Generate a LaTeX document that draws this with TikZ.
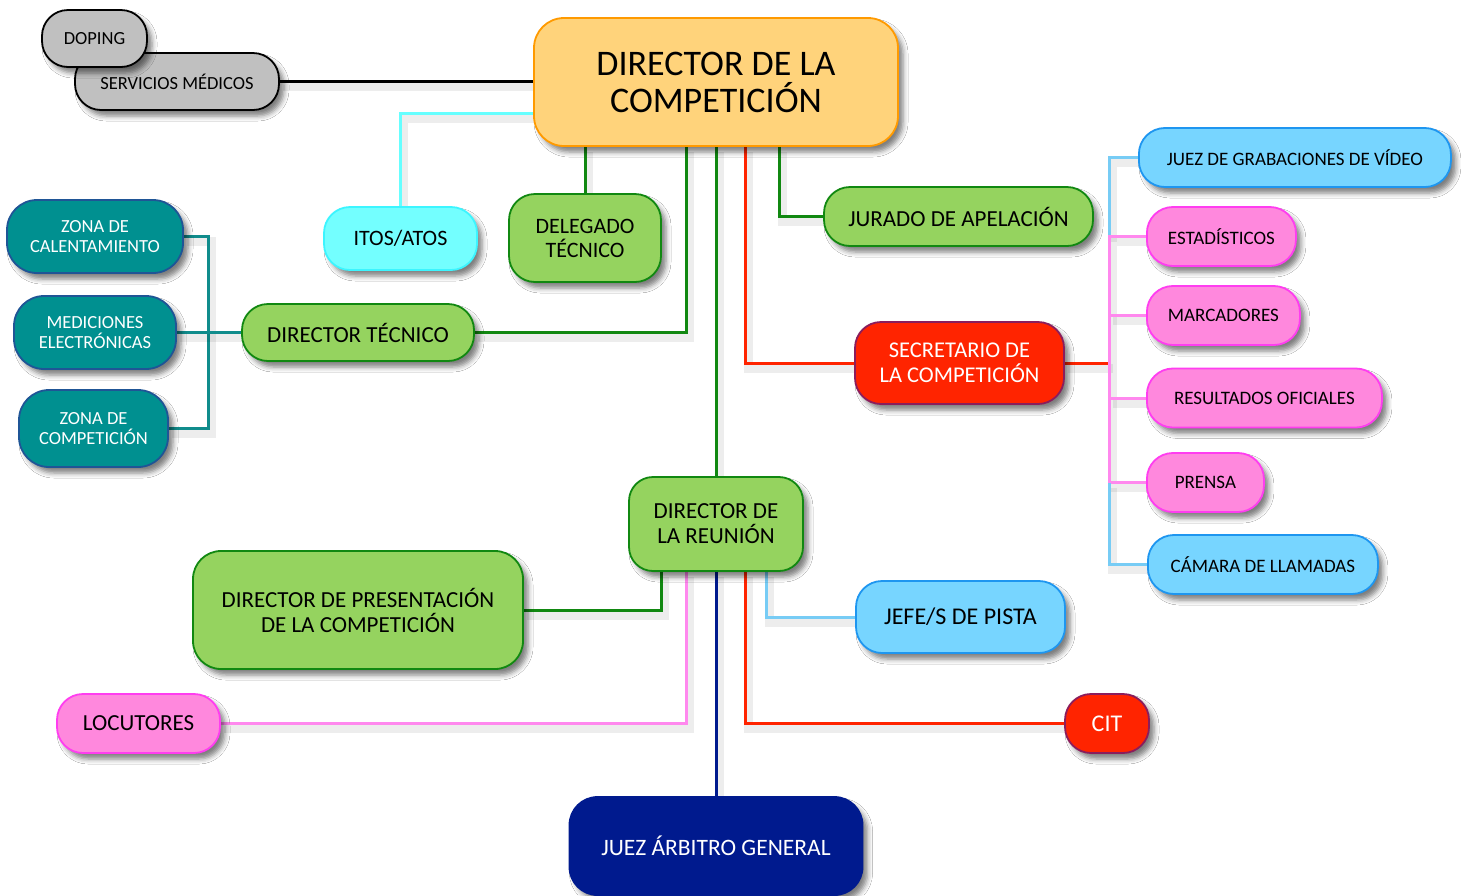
\documentclass[tikz,border=0pt]{standalone}
\usepackage{fontspec}
\setmainfont{Carlito}
\usetikzlibrary{backgrounds,shadows.blur}
\definecolor{boxgray}{RGB}{192,192,192}
\definecolor{paleorange}{RGB}{255,211,123}
\definecolor{deeporange}{RGB}{255,154,0}
\definecolor{aqua}{RGB}{115,255,255}
\definecolor{aquaedge}{RGB}{60,245,255}
\definecolor{leafgreen}{RGB}{149,211,95}
\definecolor{darkleaf}{RGB}{17,136,17}
\definecolor{deepteal}{RGB}{0,144,144}
\definecolor{tealedge}{RGB}{31,85,150}
\definecolor{signalred}{RGB}{255,36,0}
\definecolor{plum}{RGB}{139,29,92}
\definecolor{lightsky}{RGB}{119,213,255}
\definecolor{skyedge}{RGB}{30,150,240}
\definecolor{candypink}{RGB}{255,136,221}
\definecolor{pinkedge}{RGB}{255,61,240}
\definecolor{deepnavy}{RGB}{0,26,142}
\definecolor{aqualine}{RGB}{102,255,255}
\definecolor{tealline}{RGB}{16,140,140}
\definecolor{skyline}{RGB}{119,204,245}
\definecolor{pinkline}{RGB}{255,136,238}

\begin{document}
\begin{tikzpicture}[line join=bevel,
        boxnode/.style={shape=rectangle, rounded corners=26pt, line width=1.8pt, align=center, inner sep=2pt,
          blur shadow={shadow xshift=5pt, shadow yshift=-6pt, shadow blur radius=5pt, shadow opacity=50}},
        graynode/.style={boxnode, fill=boxgray, draw=black, font=\fontsize{18.5pt}{20pt}\selectfont},
        orangenode/.style={boxnode, fill=paleorange, draw=deeporange},
        cyannode/.style={boxnode, fill=aqua, draw=aquaedge},
        greennode/.style={boxnode, fill=leafgreen, draw=darkleaf},
        tealnode/.style={boxnode, fill=deepteal, draw=tealedge, text=white, rounded corners=30pt, font=\fontsize{18.5pt}{20pt}\selectfont},
        rednode/.style={boxnode, fill=signalred, draw=plum, text=white},
        skybluenode/.style={boxnode, fill=lightsky, draw=skyedge},
        pinknode/.style={boxnode, fill=candypink, draw=pinkedge},
        navynode/.style={boxnode, fill=deepnavy, draw=deepnavy, text=white},
        link/.style={line width=3pt, preaction={draw=black, draw opacity=.07, line width=9pt, transform canvas={shift={(3pt,-5pt)}}}},
        blacklink/.style={link, draw=black},
        aqualink/.style={link, draw=aqualine},
        greenlink/.style={link, draw=darkleaf},
        redlink/.style={link, draw=signalred},
        teallink/.style={link, draw=tealline},
        skylink/.style={link, draw=skyline},
        pinklink/.style={link, draw=pinkline},
        navylink/.style={link, draw=deepnavy}]
        \useasboundingbox (0pt,0pt) rectangle (1461pt,-895pt);
        % Top
        \node[graynode, minimum width=204pt, minimum height=57pt] (servicios) at (177pt,-81.5pt) {SERVICIOS MÉDICOS};
        \node[graynode, minimum width=105pt, minimum height=57pt] (doping) at (94.5pt,-38.5pt) {DOPING};
        \node[orangenode, minimum width=364pt, minimum height=128pt, rounded corners=30pt, font=\fontsize{36pt}{37pt}\selectfont] (dircomp) at (716pt,-82pt) {DIRECTOR DE LA\\COMPETICIÓN};
        \node[cyannode, minimum width=153pt, minimum height=63pt, font=\fontsize{22pt}{24pt}\selectfont] (itos) at (400.5pt,-238.5pt) {ITOS/ATOS};
        \node[greennode, minimum width=152pt, minimum height=88pt, font=\fontsize{22pt}{24pt}\selectfont] (delegado) at (585pt,-238pt) {DELEGADO\\TÉCNICO};
        \node[greennode, minimum width=269pt, minimum height=59pt, font=\fontsize{23pt}{25pt}\selectfont] (jurado) at (958.5pt,-216.5pt) {JURADO DE APELACIÓN};
        % Left
        \node[tealnode, minimum width=176pt, minimum height=73pt] (zcal) at (95pt,-236.5pt) {ZONA DE\\CALENTAMIENTO};
        \node[tealnode, minimum width=162pt, minimum height=73pt] (medic) at (95pt,-332.5pt) {MEDICIONES\\ELECTRÓNICAS};
        \node[tealnode, minimum width=149pt, minimum height=77pt] (zcomp) at (93.5pt,-428.5pt) {ZONA DE\\COMPETICIÓN};
        \node[greennode, minimum width=232pt, minimum height=57pt, font=\fontsize{23pt}{25pt}\selectfont] (dtecnico) at (358pt,-332.5pt) {DIRECTOR TÉCNICO};
        % Right
        \node[rednode, minimum width=209pt, minimum height=82pt, font=\fontsize{22.5pt}{25pt}\selectfont] (secretario) at (959.5pt,-363pt) {SECRETARIO DE\\LA COMPETICIÓN};
        \node[skybluenode, anchor=west, minimum width=312pt, minimum height=59pt, font=\fontsize{19pt}{20pt}\selectfont] (jgrab) at (1138pt,-157.5pt) {JUEZ DE GRABACIONES DE VÍDEO};
        \foreach \name/\y/\w/\txt in {estad/236.5/149/ESTADÍSTICOS, marcad/315.5/153/MARCADORES, result/398/235/RESULTADOS OFICIALES, prensa/482.5/117/PRENSA} {
          \node[pinknode, anchor=west, minimum width=\w pt, minimum height=59pt, font=\fontsize{19pt}{20pt}\selectfont] (\name) at (1146pt,-\y pt) {\txt};
        }
        \node[skybluenode, anchor=west, minimum width=230pt, minimum height=59pt, font=\fontsize{19pt}{20pt}\selectfont] (camara) at (1147pt,-564.5pt) {CÁMARA DE LLAMADAS};
        % Bottom
        \node[greennode, minimum width=174pt, minimum height=94pt, rounded corners=24pt, font=\fontsize{23pt}{25pt}\selectfont] (dreunion) at (716pt,-524pt) {DIRECTOR DE\\LA REUNIÓN};
        \node[greennode, minimum width=330pt, minimum height=118pt, rounded corners=28pt, font=\fontsize{23pt}{25pt}\selectfont] (dpresent) at (358pt,-610pt) {DIRECTOR DE PRESENTACIÓN\\DE LA COMPETICIÓN};
        \node[skybluenode, minimum width=209pt, minimum height=72pt, font=\fontsize{24pt}{26pt}\selectfont] (jefe) at (960.5pt,-617pt) {JEFE/S DE PISTA};
        \node[pinknode, minimum width=163pt, minimum height=59pt, font=\fontsize{23pt}{25pt}\selectfont] (locutores) at (138.5pt,-723.5pt) {LOCUTORES};
        \node[rednode, minimum width=84pt, minimum height=59pt, font=\fontsize{24pt}{26pt}\selectfont] (cit) at (1107pt,-723.5pt) {CIT};
        \node[navynode, minimum width=293pt, minimum height=98pt, rounded corners=28pt, font=\fontsize{23.5pt}{25pt}\selectfont] (jag) at (716pt,-846pt) {JUEZ ÁRBITRO GENERAL};
        % Connectors
        \begin{scope}[on background layer]
        \fill[white] (0pt,0pt) rectangle (1461pt,-895pt);
        \draw[blacklink] (servicios.east) -- (servicios.east -| dircomp.west);
        \draw[aqualink] ([yshift=-31pt]dircomp.west) -| (itos.north);
        \draw[greenlink] (delegado.north) -- (delegado.north |- dircomp.south);
        \draw[greenlink] ([xshift=-30pt]dircomp.south) |- (dtecnico.east);
        \draw[greenlink] (dircomp.south) -- (dreunion.north);
        \draw[redlink] ([xshift=29pt]dircomp.south) |- (secretario.west);
        \draw[greenlink] ([xshift=63pt]dircomp.south) |- (jurado.west);
        \draw[teallink] (zcal.east) -| ([xshift=-33pt]dtecnico.west) |- (zcomp.east);
        \draw[teallink] (medic.east) -- (dtecnico.west);
        \draw[redlink] (secretario.east) -- ++(45pt,0pt) coordinate (rbus);
        \draw[skylink] (jgrab.west) -| (rbus |- estad.west);
        \draw[pinklink] (estad.west) -| (rbus |- prensa.west) -- (prensa.west);
        \foreach \name in {marcad, result} {
          \draw[pinklink] (\name.west) -- (rbus |- \name.west);
        }
        \draw[skylink] (rbus |- prensa.west) |- (camara.west);
        \draw[greenlink] ([xshift=-55pt]dreunion.south) |- (dpresent.east);
        \draw[pinklink] ([xshift=-30pt]dreunion.south) |- (locutores.east);
        \draw[navylink] (dreunion.south) -- (jag.north);
        \draw[redlink] ([xshift=29pt]dreunion.south) |- (cit.west);
        \draw[skylink] ([xshift=50pt]dreunion.south) |- (jefe.west);
        \end{scope}
\end{tikzpicture}
\end{document}
